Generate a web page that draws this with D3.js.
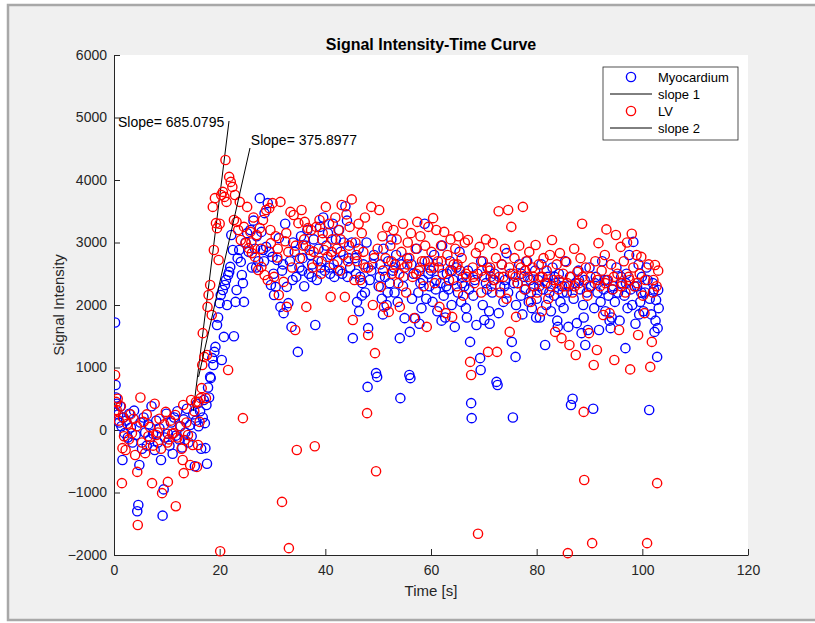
<!DOCTYPE html>
<html><head><meta charset="utf-8">
<script src="https://cdn.jsdelivr.net/npm/d3@7"></script>
<style>
body{margin:0;background:#fff;}
text{font-family:"Liberation Sans",Arial,Helvetica,sans-serif;}
</style></head><body>
<svg id="chart" width="815" height="623"></svg>
<script>
const title = "Signal Intensity-Time Curve";
const xLabel = "Time [s]";
const yLabel = "Signal Intensity";
const xTicks = [0,20,40,60,80,100,120];
const yTicks = [-2000,-1000,0,1000,2000,3000,4000,5000,6000];
const legendNames = ["Myocardium","slope 1","LV","slope 2"];

// Myocardium: [time (s), signal intensity]
const myocardium = [
[0.2,1720],[0.3,720],[0.4,520],[0.6,420],[0.8,250],[1.0,120],[1.2,380],[1.4,60],[1.6,-480],[1.8,200],[2.0,-50],
[2.3,150],[2.6,-120],[2.9,260],[3.2,40],[3.5,-200],[3.8,310],[4.1,-80],[4.4,-1300],[4.6,-1200],[4.8,-560],[5.0,120],[5.3,-300],[5.6,200],[5.9,-40],[6.2,-250],[6.5,90],[6.8,-150],[7.1,380],[7.4,-60],[7.7,-320],[8.0,150],[8.3,-200],[8.6,30],[8.9,-480],[9.2,-1370],[9.4,-950],[9.6,-120],[9.9,260],[10.2,-60],[10.5,-250],[10.8,120],[11.1,-380],[11.4,200],[11.7,-90],[12.0,300],[12.3,-150],[12.6,60],[12.9,-280],[13.2,170],[13.5,-40],[13.8,340],[14.1,-200],[14.4,80],[14.7,-100],[15.0,250],
[15.3,-580],[15.5,150],[15.7,420],[16.0,60],[16.3,300],[16.5,-300],[16.8,200],[17.0,480],[17.2,110],[17.3,-290],[17.5,400],[17.6,-540],[17.8,680],[18.0,520],[18.2,850],[18.3,830],[18.6,1150],[18.8,1040],[19.0,1250],[19.2,1330],[19.5,1680],[19.7,1800],[20.0,2030],[20.2,2160],[20.4,1120],[20.6,2240],[20.8,1490],[21.0,2320],[21.2,2400],[21.4,2000],[21.6,2480],[21.8,2530],[22.0,2610],[22.2,3120],[22.5,2880],[22.7,1500],[23.0,2050],[23.2,2240],[23.4,2750],[23.7,2880],[24.0,2690],[24.2,2480],[24.4,2350],[24.6,2050],[24.9,3000],[25.2,3150],
[25.5,2850],[25.8,3200],[26.1,2600],[26.4,3350],[26.7,2900],[26.9,2600],[27.0,3100],[27.3,2700],[27.6,3710],[27.9,3170],[28.2,2880],[28.4,2700],[28.5,3470],[28.8,2930],[29.1,3630],[29.4,2850],[29.7,2320],[30.0,2770],[30.2,2500],[30.3,2160],[30.6,2290],[30.9,2720],[31.2,3070],[31.5,1970],[31.8,2550],[32.0,2650],[32.1,1870],[32.4,3300],[32.7,2290],[33.0,2030],[33.3,2700],[33.6,1650],[33.8,2400],[33.9,3000],[34.2,2850],[34.5,2450],[34.8,1250],[35.1,2600],[35.4,3100],[35.6,2550],[35.7,2750],[36.0,2300],[36.3,2950],[36.6,3200],[36.9,2500],[37.2,2800],[37.4,2450],[37.5,2650],[37.8,3050],[38.1,1680],[38.4,2400],[38.7,2900],[39.0,3250],[39.1,2600],[39.3,2700],[39.6,3400],[39.9,2550],[40.2,2950],[40.5,3150],[40.8,2600],[40.9,2500],[41.1,2800],[41.4,3300],[41.7,2450],[42.0,3050],[42.3,2700],[42.4,2550],[42.6,3200],[42.9,2850],[43.2,2500],[43.5,3000],[43.8,3580],[44.1,3350],[44.2,2450],[44.4,2750],[44.7,2600],[45.0,3000],
[45.2,1470],[45.6,2750],[45.8,2500],[46.0,2050],[46.3,2900],[46.4,1900],[46.6,2450],[46.9,2150],[47.0,2350],[47.2,2650],[47.5,2200],[47.8,3000],[48.0,690],[48.1,1630],[48.4,2400],[48.7,2550],[48.9,2650],[49.2,2800],[49.6,910],[49.8,850],[50.1,2300],[50.3,2450],[50.4,2650],[50.7,2100],[50.9,1850],[51.0,2900],[51.3,2450],[51.6,2000],[51.8,2200],[51.9,2700],[52.2,2350],[52.5,3050],[52.8,2550],[53.0,2600],[53.1,2200],[53.4,2800],[53.7,2050],[54.1,1470],[54.2,510],[54.4,2650],[54.7,2300],[54.8,2450],[55.0,1790],[55.5,2750],[55.9,880],[56.0,1570],[56.1,830],[56.3,2650],[56.4,2100],[56.7,2500],[57.0,1790],[57.3,2900],[57.6,2200],[57.8,1700],[57.9,2600],[58.0,2350],[58.2,1950],[58.5,2400],[58.8,3300],[59.1,2100],[59.4,2700],[59.5,2500],[59.7,2300],[60.0,2550],
[60.3,2050],[60.6,2800],[60.9,2250],[61.0,2400],[61.2,1900],[61.5,2600],[61.8,2350],[62.0,1750],[62.1,2950],[62.4,2150],[62.7,1800],[62.9,2300],[63.0,2500],[63.3,2250],[63.6,2700],[63.9,2000],[64.0,2550],[64.2,2400],[64.5,1650],[64.8,2600],[65.1,2200],[65.4,2850],[65.7,2050],[65.9,2350],[66.0,2450],[66.3,2300],[66.6,1950],[66.8,1800],[67.0,2550],[67.2,2250],[67.4,1410],[67.6,430],[67.7,190],[68.0,2150],[68.3,2400],[68.6,1680],[68.8,2500],[69.3,1150],[69.4,960],[69.5,2700],[69.8,2000],[70.1,1760],[70.4,2350],[70.6,2250],[70.7,2600],[71.0,1900],[71.1,1700],[71.3,2450],[71.6,2200],[71.8,2400],[72.0,2500],[72.4,770],[72.6,720],[72.8,1870],[73.1,2300],[73.4,2650],[73.7,2050],[73.9,2300],[74.0,2400],[74.3,2830],[74.6,2200],[75.0,2500],[75.3,1410],[75.5,200],[75.7,2350],[76.0,1170],[76.1,2000],[76.4,2350],[76.7,2650],[77.0,2150],[77.1,2500],[77.3,1850],[77.6,2450],[77.9,2250],[78.2,2700],[78.5,2050],[78.8,2400],[78.9,2200],[79.1,1950],[79.4,2300],[79.7,2550],[79.9,1800],
[80.0,2100],[80.3,2400],[80.5,2300],[80.6,1800],[80.9,2650],[81.2,2250],[81.6,1360],[81.8,2000],[82.0,2350],[82.1,2450],[82.4,2200],[82.7,1900],[83.0,2600],[83.3,2150],[83.4,2450],[83.6,2350],[83.9,1750],[84.0,1650],[84.2,2500],[84.5,2050],[84.8,2300],[84.9,2200],[85.1,1950],[85.4,2700],[85.7,2200],[86.0,1650],[86.1,2300],[86.3,2450],[86.5,400],[86.8,500],[87.0,2100],[87.3,2350],[87.6,1710],[87.9,2550],[88.0,2400],[88.2,2250],[88.5,1550],[88.8,2000],[88.9,1800],[89.1,2400],[89.2,1360],[89.5,2200],[89.7,1600],[90.0,2600],[90.3,2300],[90.7,340],[90.9,1950],[91.0,2350],[91.2,2450],[91.5,2200],[91.8,1600],[92.1,2050],[92.4,2700],[92.7,2250],[92.9,2400],[93.0,1900],[93.3,2400],[93.6,2150],[93.8,1750],[94.0,1630],[94.2,1800],[94.3,2250],[94.5,2300],[94.8,2050],[95.1,2600],[95.4,2200],[95.7,1750],[95.9,2350],[96.0,2450],[96.8,1310],[96.6,2150],[96.9,2350],[97.0,2500],[97.2,1950],[97.5,2800],[97.8,2250],[98.1,2000],[98.3,3010],[98.5,2300],[98.7,1700],[99.0,2300],[99.3,2650],[99.4,1850],[99.6,2050],[99.8,2200],[99.9,2450],[100.2,1900],[100.5,2200],[100.8,2600],[101.0,2400],[101.3,320],[101.4,2100],[101.7,1850],[102.0,2350],[102.2,2250],[102.3,1570],[102.5,1750],[102.6,2080],[102.8,1170],[102.9,1630],[103.0,2240],[103.1,1950]
];

// LV: [time (s), signal intensity]
const lv = [
[0.1,300],[0.2,880],[0.4,450],[0.5,320],[0.7,500],[0.9,150],[1.3,380],[1.5,-850],[1.6,-290],[1.7,200],[1.9,-100],
[2.2,-320],[2.5,100],[2.8,-150],[3.1,250],[3.4,-50],[3.7,180],[4.0,-400],[4.3,60],[4.4,-670],[4.5,-1520],[5.0,520],[5.3,-200],[5.6,130],[5.9,-370],[6.2,250],[6.5,-100],[6.8,50],[7.2,-850],[7.4,-250],[7.7,420],[8.0,-80],[8.3,-40],[8.6,180],[8.9,-300],[9.1,-1010],[9.5,90],[9.8,290],[10.1,-200],[10.2,-830],[10.4,-150],[10.7,150],[11.0,-60],[11.3,-50],[11.6,240],[11.7,-1220],[12.0,-120],[12.5,60],[12.8,-300],[13.0,-480],[13.2,-690],[13.1,400],[13.4,-160],[13.7,120],[14.0,-80],[14.4,-560],[14.6,480],[14.9,-240],[15.2,300],
[15.5,450],[15.7,-590],[15.9,-240],[16.0,450],[16.2,130],[16.4,510],[16.6,670],[16.7,1040],[16.8,1550],[17.1,1170],[17.4,510],[17.6,1200],[17.7,1970],[17.9,2160],[18.2,2320],[18.5,1840],[18.7,3570],[18.9,2880],[19.1,3710],[19.3,3310],[19.5,3230],[19.8,2720],[20.0,3300],[20.1,-1940],[20.3,3760],[20.6,3810],[20.9,3730],[21.1,4320],[21.3,3650],[21.6,960],[21.8,4050],[22.1,3970],[22.4,3890],[22.7,3360],[22.9,3760],[23.2,3330],[23.5,3200],[23.8,3650],[24.0,3040],[24.4,190],[24.6,3250],[24.9,2990],[25.2,3570],
[25.5,2910],[25.8,3170],[26.0,3000],[26.1,2830],[26.4,3400],[26.7,2770],[27.0,3120],[27.3,2560],[27.6,3230],[27.8,2900],[27.9,2610],[28.2,3360],[28.5,2480],[28.8,3520],[29.1,2400],[29.4,3550],[29.6,3200],[29.7,2990],[30.0,3630],[30.3,2450],[30.6,3100],[30.9,2760],[31.0,2900],[31.2,2160],[31.5,3650],[31.8,-1150],[32.1,2370],[32.4,3020],[32.6,3150],[32.7,1970],[33.0,2850],[33.1,-1890],[33.4,3490],[33.7,2600],[34.0,3440],[34.3,1600],[34.4,2950],[34.6,-320],[34.9,3310],[35.2,2750],[35.5,3520],[35.8,2950],[36.0,3050],[36.1,3330],[36.4,1970],[36.7,3230],[37.0,2880],[37.3,3200],[37.6,2600],[37.8,2850],[38.0,-260],[38.3,3250],[38.6,2700],[38.9,3360],[39.2,2500],[39.4,3050],[39.5,3150],[39.8,2880],[40.1,3570],[40.4,2770],[40.7,3300],[41.0,2130],[41.2,2850],[41.3,3050],[41.6,2650],[41.9,3400],[42.2,2900],[42.5,3200],[42.8,2550],[42.9,3050],[43.1,3600],[43.4,2800],[43.7,2130],[44.0,3450],[44.3,2700],[44.5,2950],[44.6,3250],[45.0,3690],
[45.2,1760],[45.5,2400],[45.7,3000],[45.9,2800],[46.0,2700],[46.3,3300],[46.6,2400],[46.9,3150],[47.2,2850],[47.5,3400],[47.6,2600],[47.9,270],[48.1,2600],[48.1,1520],[48.7,3570],[49.0,2000],[49.2,2750],[49.4,1230],[49.6,-660],[49.9,2900],[50.2,3520],[50.5,2290],[50.8,3100],[50.9,2550],[51.1,1970],[51.4,2750],[51.7,3250],[52.0,1890],[52.3,2950],[52.5,2700],[52.6,2500],[52.9,3200],[53.2,2650],[53.5,3050],[53.8,2350],[54.0,2500],[54.1,1970],[54.4,2850],[54.7,3300],[55.0,2600],[55.3,2200],[55.5,2650],[55.6,3000],[55.9,2750],[56.2,3150],[56.5,2450],[56.8,1790],[57.1,2900],[57.2,2500],[57.4,3330],[57.7,2550],[58.0,3100],[58.3,2700],[58.6,2300],[58.8,2700],[58.9,2950],[59.2,1650],[59.5,3250],[59.8,2600],[60.1,2850],[60.4,3390],[60.5,2600],
[60.7,2350],[61.0,3200],[61.3,2700],[61.6,1970],[61.9,2950],[62.0,2700],[62.2,2500],[62.5,3170],[62.8,1870],[63.1,2800],[63.4,2400],[63.6,2550],[63.7,3050],[64.0,1810],[64.3,2650],[64.6,2900],[64.9,2300],[65.0,2650],[65.2,3100],[65.5,2550],[65.8,2750],[66.1,2150],[66.4,3000],[66.6,2500],[66.7,2450],[67.0,3040],[67.4,1090],[67.6,880],[67.9,2600],[68.0,2450],[68.2,2350],[68.5,2830],[68.9,-1660],[69.2,2930],[69.5,2200],[69.6,2550],[69.8,2700],[70.1,2450],[70.4,3050],[70.8,1250],[71.1,2550],[71.2,2600],[71.4,2300],[71.7,2990],[72.0,2400],[72.3,2750],[72.5,1250],[72.8,3500],[72.9,2450],[73.1,2200],[73.4,2650],[73.7,2450],[74.0,2900],[74.3,2100],[74.6,3520],[74.8,2600],[74.9,1570],[75.2,3250],[75.5,2500],[75.8,2750],[76.0,2450],[76.1,1810],[76.4,2350],[76.7,2950],[77.0,2600],[77.4,3570],[77.7,2250],[77.8,2550],[78.0,2700],[78.3,2450],[78.6,2850],[78.9,2050],[79.2,2600],[79.4,2450],[79.5,2300],[79.8,2960],
[80.1,2200],[80.4,2650],[80.7,2450],[81.0,1900],[81.1,2450],[81.3,2750],[81.6,2350],[81.9,2550],[82.2,2100],[82.5,2800],[82.7,2300],[82.9,3040],[83.2,2400],[83.5,1570],[83.8,2650],[84.1,2250],[84.2,2400],[84.4,2830],[84.7,1470],[85.0,2500],[85.3,2300],[85.6,2690],[85.8,2350],[85.9,-1970],[86.2,1360],[86.5,2450],[86.8,2200],[87.1,2900],[87.2,2300],[87.4,1200],[87.7,2530],[88.0,2350],[88.3,2750],[88.6,3300],[88.7,2450],[88.9,290],[89.0,-800],[89.3,2600],[89.6,2150],[89.9,1550],[90.0,2300],[90.2,2450],[90.5,-1810],[90.8,1040],[91.1,2700],[91.4,1280],[91.5,2400],[91.7,2990],[92.0,2300],[92.3,2550],[92.6,1840],[92.9,2800],[93.0,2350],[93.2,3210],[93.5,2400],[93.8,1870],[94.1,2650],[94.4,2250],[94.6,2450],[94.7,1120],[95.0,3120],[95.3,2500],[95.6,1600],[95.9,2930],[96.0,2300],[96.2,2350],[96.5,2700],[96.8,2200],[97.1,3000],[97.4,2450],[97.6,2400],[97.7,970],[98.0,3140],[98.3,2600],[98.6,2300],[98.9,2800],[99.0,2350],[99.2,1520],[99.5,2500],[99.8,2770],[100.1,2150],[100.4,1870],[100.6,2400],[100.9,-1810],[101.2,2650],[101.5,1010],[101.8,1410],[102.0,2200],[102.1,2400],[102.4,2640],[102.7,2300],[102.8,-850],[103.0,2550]
];

const slope1 = [[15.0,306],[21.77,4944]];
const slope2 = [[16.0,850],[25.74,4512]];
const slopeLabels = [
  {text:"Slope= 685.0795", t:0.75, v:4930},
  {text:"Slope= 375.8977", t:25.9, v:4640}
];

const W = 815, H = 623;
const svg = d3.select("#chart");
const axisColor = "#262626";

// figure background & frame
svg.append("rect").attr("x",0).attr("y",0).attr("width",W).attr("height",H).attr("fill","#ffffff");
svg.append("rect").attr("x",8).attr("y",5).attr("width",W-8).attr("height",615).attr("fill","#f0f0f0");
svg.append("path").attr("d",`M${W},5 H8 V620 H${W}`).attr("fill","none").attr("stroke","#a8a8a8").attr("stroke-width",2.5);

const plot = {left:114, right:748, top:55, bottom:555};
const x = d3.scaleLinear().domain([0,120]).range([plot.left, plot.right]);
const y = d3.scaleLinear().domain([-2000,6000]).range([plot.bottom, plot.top]);

svg.append("rect").attr("x",plot.left).attr("y",plot.top)
  .attr("width",plot.right-plot.left).attr("height",plot.bottom-plot.top).attr("fill","#ffffff");

// axes
const xAxis = d3.axisBottom(x).tickValues(xTicks).tickSizeInner(-6).tickSizeOuter(0).tickPadding(10).tickFormat(d3.format("d"));
const yAxis = d3.axisLeft(y).tickValues(yTicks).tickSizeInner(-6).tickSizeOuter(0).tickPadding(7).tickFormat(d3.format("d"));
function styleAxis(g){
  g.selectAll("path,line").attr("stroke",axisColor).attr("stroke-width",1);
  g.selectAll("text").attr("fill",axisColor).attr("font-size","14px").attr("font-family","Liberation Sans, Arial, sans-serif");
}
svg.append("g").attr("transform",`translate(0,${plot.bottom})`).call(xAxis).call(styleAxis);
svg.append("g").attr("transform",`translate(${plot.left},0)`).call(yAxis).call(styleAxis);

// clip
svg.append("clipPath").attr("id","clip").append("rect")
  .attr("x",plot.left).attr("y",plot.top).attr("width",plot.right-plot.left).attr("height",plot.bottom-plot.top+6);

const layer = svg.append("g").attr("clip-path","url(#clip)");
const line = d3.line().x(d=>x(d[0])).y(d=>y(d[1]));

function scatter(data,color){
  layer.append("g").selectAll("circle").data(data).join("circle")
    .attr("cx",d=>x(d[0])).attr("cy",d=>y(d[1])).attr("r",4.6)
    .attr("fill","none").attr("stroke",color).attr("stroke-width",1.4);
}
scatter(myocardium,"#0000ff");
layer.append("path").datum(slope1).attr("d",line).attr("fill","none").attr("stroke","#000").attr("stroke-width",1);
scatter(lv,"#ff0000");
layer.append("path").datum(slope2).attr("d",line).attr("fill","none").attr("stroke","#000").attr("stroke-width",1);

// slope labels
svg.selectAll("text.slope").data(slopeLabels).join("text").attr("class","slope")
  .attr("x",d=>x(d.t)).attr("y",d=>y(d.v)).attr("dy","0.35em")
  .attr("font-size","14px").attr("fill","#000").text(d=>d.text);

// title and labels
svg.append("text").attr("x",(plot.left+plot.right)/2).attr("y",50).attr("text-anchor","middle")
  .attr("font-size","16px").attr("font-weight","bold").attr("fill","#000").text(title);
svg.append("text").attr("x",(plot.left+plot.right)/2).attr("y",596).attr("text-anchor","middle")
  .attr("font-size","15px").attr("fill",axisColor).text(xLabel);
svg.append("text").attr("transform",`translate(64,${(plot.top+plot.bottom)/2}) rotate(-90)`).attr("text-anchor","middle")
  .attr("font-size","15px").attr("fill",axisColor).text(yLabel);

// legend
const lg = svg.append("g");
lg.append("rect").attr("x",603).attr("y",67).attr("width",135).attr("height",73)
  .attr("fill","#fff").attr("stroke",axisColor).attr("stroke-width",0.8);
const rows = [77,94,111,128];
legendNames.forEach((name,i)=>{
  const ry = rows[i];
  if(i===0||i===2){
    lg.append("circle").attr("cx",631).attr("cy",ry).attr("r",4.6).attr("fill","none")
      .attr("stroke",i===0?"#0000ff":"#ff0000").attr("stroke-width",1.4);
  } else {
    lg.append("line").attr("x1",610).attr("x2",652).attr("y1",ry).attr("y2",ry).attr("stroke","#000").attr("stroke-width",1);
  }
  lg.append("text").attr("x",658).attr("y",ry).attr("dy","0.35em").attr("font-size","13px").attr("fill","#000").text(name);
});
</script>
</body></html>
